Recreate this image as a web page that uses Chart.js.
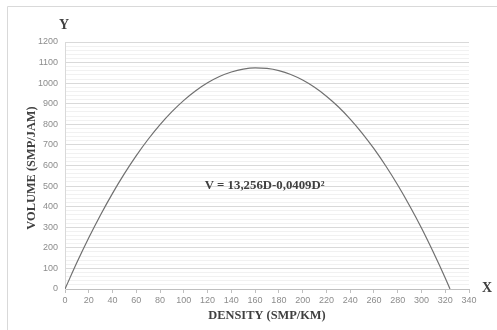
<!DOCTYPE html>
<html>
<head>
<meta charset="utf-8">
<script src="https://cdn.jsdelivr.net/npm/chart.js@4/dist/chart.umd.min.js"></script>
<style>
  html, body { margin: 0; padding: 0; background: #ffffff; }
  #wrap { width: 497px; height: 330px; position: relative; }
</style>
</head>
<body>
<div id="wrap"><canvas id="c"></canvas></div>
<script>
// Density (SMP/KM) and volume (SMP/JAM) along the fitted curve
const density = [0, 10, 20, 30, 40, 50, 60, 70, 80, 90, 100, 110, 120, 130, 140, 150, 160,
                 170, 180, 190, 200, 210, 220, 230, 240, 250, 260, 270, 280, 290, 300, 310, 320, 324];
const volume = [0, 128.5, 248.8, 360.9, 464.8, 560.6, 648.1, 727.5, 798.7, 861.8, 916.6, 963.3,
                1001.8, 1032.1, 1054.2, 1068.2, 1073.9, 1071.5, 1060.9, 1042.2, 1015.2, 980.1,
                936.8, 885.3, 825.6, 757.8, 681.7, 597.5, 505.1, 404.6, 296.7, 178.9, 53.8, 0];

const xTicks = { min: 0, max: 340, step: 20 };
const yTicks = { min: 0, max: 1200, major: 100, minor: 20 };

const equationText = 'V = 13,256D-0,0409D\u00B2';
const equationAt = { x: 168, y: 500 };
const xAxisTitle = 'DENSITY (SMP/KM)';
const yAxisTitle = 'VOLUME (SMP/JAM)';

const serif = '"Liberation Serif", "DejaVu Serif", serif';

const decorations = {
  id: 'decorations',
  beforeDraw(chart) {
    const ctx = chart.ctx;
    ctx.save();
    ctx.strokeStyle = '#d9d9d9';
    ctx.lineWidth = 1;
    ctx.beginPath();
    ctx.moveTo(7.5, 340);
    ctx.lineTo(7.5, 6.5);
    ctx.lineTo(500, 6.5);
    ctx.stroke();
    ctx.restore();
  },
  afterDraw(chart) {
    const ctx = chart.ctx;
    const { left, right, top, bottom } = chart.chartArea;
    const xs = chart.scales.x, ys = chart.scales.y;
    ctx.save();
    ctx.fillStyle = '#404040';
    ctx.textAlign = 'center';
    ctx.textBaseline = 'middle';

    ctx.font = 'bold 14px ' + serif;
    ctx.fillText('Y', left - 1, 25);
    ctx.fillText('X', right + 18, bottom - 1);

    ctx.font = 'bold 12.4px ' + serif;
    ctx.fillText(xAxisTitle, 267, 316);

    ctx.save();
    ctx.translate(32, 168);
    ctx.rotate(-Math.PI / 2);
    ctx.fillText(yAxisTitle, 0, 0);
    ctx.restore();

    ctx.font = 'bold 12.8px ' + serif;
    ctx.fillText(equationText, xs.getPixelForValue(equationAt.x), ys.getPixelForValue(equationAt.y));
    ctx.restore();
  }
};

new Chart(document.getElementById('c'), {
  type: 'scatter',
  data: {
    datasets: [{
      data: density.map((d, i) => ({ x: d, y: volume[i] })),
      showLine: true,
      borderColor: '#707070',
      borderWidth: 1.2,
      pointRadius: 0,
      cubicInterpolationMode: 'monotone',
      fill: false
    }]
  },
  options: {
    responsive: true,
    maintainAspectRatio: false,
    animation: false,
    devicePixelRatio: 1,
    layout: { padding: { top: 42, right: 28, left: 0, bottom: 0 } },
    plugins: { legend: { display: false }, tooltip: { enabled: false } },
    scales: {
      x: {
        type: 'linear',
        min: xTicks.min,
        max: xTicks.max,
        afterFit(scale) { scale.height = 41; },
        ticks: {
          stepSize: xTicks.step,
          autoSkip: false,
          maxRotation: 0,
          color: '#8c8c8c',
          padding: 2,
          font: { family: '"Liberation Sans", Arial, sans-serif', size: 9 }
        },
        grid: { drawOnChartArea: false, drawTicks: true, tickLength: 4, color: '#bfbfbf' },
        border: { display: true, color: '#bfbfbf' }
      },
      y: {
        type: 'linear',
        min: yTicks.min,
        max: yTicks.max,
        afterFit(scale) { scale.width = 65; },
        ticks: {
          stepSize: yTicks.minor,
          autoSkip: false,
          color: '#8c8c8c',
          padding: 7,
          font: { family: '"Liberation Sans", Arial, sans-serif', size: 9 },
          callback: (v) => (v % yTicks.major === 0 ? v : '')
        },
        grid: {
          drawTicks: false,
          color: (c) => (c.tick && c.tick.value % yTicks.major === 0 ? '#d9d9d9' : '#f1f1f1')
        },
        border: { display: true, color: '#d9d9d9' }
      }
    }
  },
  plugins: [decorations]
});
</script>
</body>
</html>
